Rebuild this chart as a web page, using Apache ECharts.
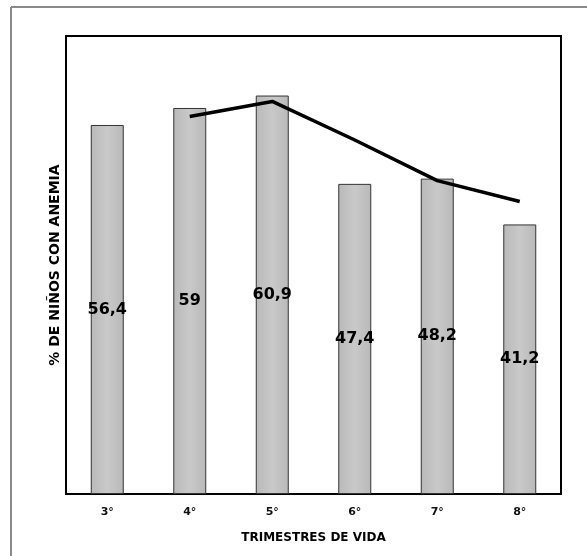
<!DOCTYPE html>
<html>
<head>
<meta charset="utf-8">
<script src="https://cdn.jsdelivr.net/npm/echarts@6/dist/echarts.min.js"></script>
<style>html,body{margin:0;padding:0;background:#fff;}#c{width:587px;height:556px;}</style>
</head>
<body>
<div id="c"></div>
<script>
const categories = ['3°', '4°', '5°', '6°', '7°', '8°'];
const barValues = [56.4, 59, 60.9, 47.4, 48.2, 41.2];
const lineValues = [null, 57.7, 60.0, 54.1, 47.9, 44.7];
const xTitle = 'TRIMESTRES DE VIDA';
const yTitle = '% DE NIÑOS CON ANEMIA';

const chart = echarts.init(document.getElementById('c'), null, {renderer: 'canvas'});
const font = '"DejaVu Sans", Verdana, sans-serif';
chart.setOption({
  animation: false,
  backgroundColor: '#fff',
  graphic: [
    {type: 'line', shape: {x1: 11, y1: 7, x2: 11, y2: 556}, style: {stroke: '#8a8a8a', lineWidth: 2}},
    {type: 'line', shape: {x1: 11, y1: 7, x2: 587, y2: 7}, style: {stroke: '#8a8a8a', lineWidth: 2}}
  ],
  grid: {left: 66, right: 26, top: 36, bottom: 62, show: true, borderColor: '#000', borderWidth: 2, backgroundColor: 'transparent'},
  xAxis: {
    type: 'category', data: categories,
    axisLine: {show: true, lineStyle: {color: '#000', width: 2}},
    axisTick: {show: false},
    axisLabel: {color: '#111', fontFamily: font, fontWeight: 'bold', fontSize: 11, margin: 13},
    name: xTitle, nameLocation: 'middle', nameGap: 38,
    nameTextStyle: {color: '#000', fontFamily: font, fontWeight: 'bold', fontSize: 12}
  },
  yAxis: {
    type: 'value', min: 0, max: 70,
    axisLine: {show: true, lineStyle: {color: '#000', width: 2}},
    axisTick: {show: false}, axisLabel: {show: false}, splitLine: {show: false},
    name: yTitle, nameLocation: 'middle', nameGap: 4, nameRotate: 90,
    nameTextStyle: {color: '#000', fontFamily: font, fontWeight: 'bold', fontSize: 14}
  },
  series: [
    {
      type: 'bar', data: barValues, barWidth: '40%',
      itemStyle: {
        color: new echarts.graphic.LinearGradient(0, 0, 1, 0, [
          {offset: 0, color: '#b9b9b9'}, {offset: 0.5, color: '#c9c9c9'}, {offset: 1, color: '#b9b9b9'}
        ]),
        borderColor: '#333', borderWidth: 1
      },
      label: {
        show: true, position: 'inside', color: '#000', fontFamily: font, fontWeight: 'bold', fontSize: 16,
        formatter: p => String(p.value).replace('.', ',')
      }
    },
    {
      type: 'line', data: lineValues, symbol: 'none', connectNulls: false,
      lineStyle: {color: '#000', width: 3.5}, z: 5
    }
  ]
});
</script>
</body>
</html>
